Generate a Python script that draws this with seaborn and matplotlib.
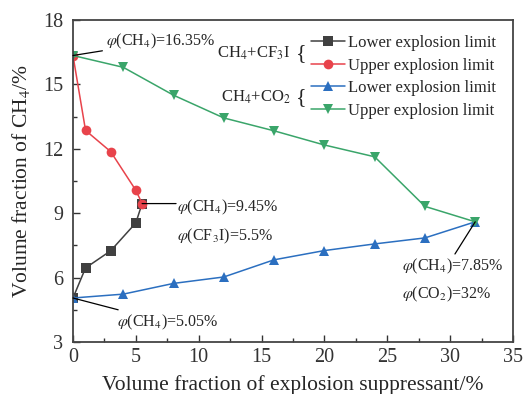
import numpy as np
import pandas as pd
import matplotlib
matplotlib.use("Agg")
import matplotlib.pyplot as plt
import seaborn as sns

# Data
cf3i_x = [0, 1, 3, 5, 5.5]
cf3i_lower = [5.05, 6.45, 7.25, 8.55, 9.45]
cf3i_upper_x = [0, 1, 3, 5, 5.5]
cf3i_upper = [16.35, 12.86, 11.87, 10.07, 9.45]
co2_x = [0, 4, 8, 12, 16, 20, 24, 28, 32]
co2_lower = [5.05, 5.23, 5.73, 6.03, 6.83, 7.26, 7.57, 7.85, 8.6]
co2_upper = [16.35, 15.8, 14.5, 13.44, 12.84, 12.18, 11.63, 9.32, 8.6]

series_names = ["CF3I lower", "CF3I upper", "CO2 lower", "CO2 upper"]

sns.set_style("ticks")
plt.rcParams["font.family"] = ["Liberation Serif", "DejaVu Serif"]
plt.rcParams["mathtext.fontset"] = "stix"

fig = plt.figure(figsize=(5.25, 3.94), dpi=100)
ax = fig.add_axes([0.139, 0.132, 0.838, 0.817])

styles = {
    "CF3I lower": dict(color="#404040", marker="s"),
    "CF3I upper": dict(color="#e8434b", marker="o"),
    "CO2 lower": dict(color="#2b6fc0", marker="^"),
    "CO2 upper": dict(color="#3aa56a", marker="v"),
}
data = {
    "CF3I lower": (cf3i_x, cf3i_lower),
    "CF3I upper": (cf3i_upper_x, cf3i_upper),
    "CO2 lower": (co2_x, co2_lower),
    "CO2 upper": (co2_x, co2_upper),
}
handles = []
for name in series_names:
    xs, ys = data[name]
    df = pd.DataFrame({"x": xs, "y": ys})
    st = styles[name]
    sns.lineplot(data=df, x="x", y="y", ax=ax, color=st["color"], marker=st["marker"],
                 markersize=7, markeredgewidth=0, linewidth=1.1, sort=False,
                 label="_nolegend_")
    handles.append(ax.lines[-1])

ax.set_xlim(0, 35)
ax.set_ylim(3, 18)
ax.set_xticks(np.arange(0, 36, 5))
ax.set_yticks(np.arange(3, 19, 3))
ax.set_xticks(np.arange(2.5, 35, 5), minor=True)
ax.set_yticks(np.arange(4.5, 18, 3), minor=True)
ax.tick_params(which="both", direction="in", labelsize=14.5, colors="#333333")
ax.tick_params(axis="x", which="major", pad=4)
ax.tick_params(axis="y", which="major", pad=7)
ax.tick_params(which="major", length=5, width=1)
ax.tick_params(which="minor", length=3, width=1)
for s in ax.spines.values():
    s.set_linewidth(1.3)
    s.set_color("#444444")
ax.set_xlabel("Volume fraction of explosion suppressant/%", fontsize=15.5, labelpad=6)
ax.set_ylabel("Volume fraction of CH$_4$/%", fontsize=15.5, labelpad=8)

labels = ["Lower explosion limit", "Upper explosion limit",
          "Lower explosion limit", "Upper explosion limit"]
leg = ax.legend(handles, labels, loc="upper right", bbox_to_anchor=(0.984, 0.985),
                frameon=False, fontsize=12, handlelength=2.0, handletextpad=0.2,
                labelspacing=0.4, borderaxespad=0.2)

fig.text(0.554, 0.865, "CH$_4$+CF$_3$I", fontsize=12, ha="right", va="center")
fig.text(0.554, 0.753, "CH$_4$+CO$_2$", fontsize=12, ha="right", va="center")
fig.text(0.563, 0.865, "{", fontsize=16, ha="left", va="center")
fig.text(0.563, 0.753, "{", fontsize=16, ha="left", va="center")

fs = 11.5
line_kw = dict(arrowstyle="-", color="black", lw=0.9, shrinkA=0, shrinkB=0)
ax.annotate(r"$\varphi$(CH$_4$)=16.35%", xy=(0, 16.35), xytext=(2.6, 17.0),
            fontsize=fs, va="center", ha="left", arrowprops=line_kw)
ax.annotate("", xy=(5.5, 9.45), xytext=(8.2, 9.45), arrowprops=line_kw)
ax.text(8.3, 9.25, r"$\varphi$(CH$_4$)=9.45%", fontsize=fs, va="center", ha="left")
ax.text(8.3, 7.9, r"$\varphi$(CF$_3$I)=5.5%", fontsize=fs, va="center", ha="left")
ax.annotate(r"$\varphi$(CH$_4$)=5.05%", xy=(0, 5.05), xytext=(3.5, 3.9),
            fontsize=fs, va="center", ha="left", arrowprops=line_kw)
ax.annotate(r"$\varphi$(CH$_4$)=7.85%", xy=(32, 8.6), xytext=(26.2, 6.5),
            fontsize=fs, va="center", ha="left",
            arrowprops=dict(line_kw, relpos=(0.5, 1.0)))
ax.text(26.2, 5.2, r"$\varphi$(CO$_2$)=32%", fontsize=fs, va="center", ha="left")

fig.savefig("out.png", dpi=100)
